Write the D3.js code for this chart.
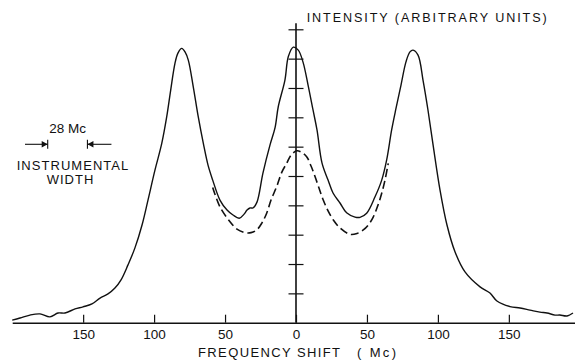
<!DOCTYPE html>
<html>

<head>
  <title>Frequency shift spectrum</title>
  <style>
    body { margin: 0; background: #fff; }
    text { font-family: "Liberation Sans", Arial, sans-serif; fill: #111; }
  </style>
</head>

<body>
  <svg id="main" width="575" height="362"></svg>

  <script src="https://cdn.jsdelivr.net/npm/d3@7.0.1/dist/d3.min.js"></script>
  <script>
    // measured trace (frequency shift in Mc, intensity in arbitrary units)
    const solidShift = [-200, -194.5, -187.5, -180.4, -173.4, -167.7, -162.8, -155.7, -150.1, -143.8,
      -138.1, -132.5, -127.6, -123.3, -118.4, -113.5, -108.5, -104.3, -99.4, -94.6,
      -91.1, -88.3, -85.3, -83.2, -80.5, -78.2, -75.9, -72.4, -68.9, -65.3,
      -62.0, -58.7, -53.6, -48.6, -44.4, -40.0, -36.6, -34.5, -32.4, -30.3,
      -27.5, -23.3, -18.3, -14.8, -12.5, -7.8, -5.4, -1.9, 1.6, 4.9,
      8.5, 12.0, 14.8, 18.3, 22.6, 26.1, 31.0, 35.9, 41.6, 45.1,
      49.8, 55.7, 60.4, 63.9, 67.4, 70.5, 74.0, 77.5, 80.3, 82.5,
      86.0, 89.5, 93.0, 96.6, 101.5, 106.4, 112.1, 119.1, 129.7, 136.7,
      141.6, 150.8, 157.9, 164.9, 171.9, 176.9, 182.5, 186.0, 191.0, 195.2]
    const solidIntensity = [0.09, 0.16, 0.26, 0.30, 0.20, 0.33, 0.33, 0.47, 0.54, 0.64,
      0.84, 0.98, 1.18, 1.46, 1.97, 2.55, 3.33, 4.18, 5.20, 6.11,
      7.02, 7.93, 8.84, 9.19, 9.35, 9.23, 8.95, 8.04, 7.02, 6.11,
      5.37, 4.86, 4.18, 3.84, 3.67, 3.56, 3.70, 3.84, 3.91, 3.91,
      4.11, 5.10, 6.06, 6.64, 7.36, 8.27, 9.07, 9.39, 9.29, 8.89,
      8.10, 7.25, 6.57, 5.45, 4.86, 4.42, 4.08, 3.74, 3.60, 3.59,
      3.73, 4.29, 4.86, 5.55, 6.57, 7.31, 8.10, 8.89, 9.23, 9.29,
      9.12, 8.27, 7.25, 6.06, 4.52, 3.33, 2.41, 1.73, 1.22, 1.01,
      0.74, 0.55, 0.50, 0.43, 0.36, 0.33, 0.26, 0.26, 0.23, 0.33]

    // dashed curve
    const dashShift = [-58.7, -53.6, -46.5, -41.6, -35.9, -31.7, -27.7, -24.0, -20.6, -17.6,
      -13.6, -9.9, -6.6, -3.5, 0.5, 3.5, 7.5, 10.6, 13.4, 16.2,
      19.2, 22.6, 26.3, 31.0, 38.1, 43.0, 47.4, 51.4, 54.5, 57.8,
      60.4, 62.7, 65.0]
    const dashIntensity = [4.61, 3.95, 3.44, 3.19, 3.07, 3.07, 3.16, 3.40, 3.74, 4.18,
      4.64, 5.14, 5.43, 5.71, 5.86, 5.82, 5.66, 5.34, 4.98, 4.59,
      4.18, 3.81, 3.50, 3.23, 3.01, 3.04, 3.16, 3.36, 3.61, 4.01,
      4.41, 4.86, 5.43]

    const xTicks = [-150, -100, -50, 0, 50, 100, 150]
    const yTicks = [1, 2, 3, 4, 5, 6, 7, 8, 9, 10]
    const widthMc = 28

    const svg = d3.select('#main')

    const xScale = d3.scaleLinear().domain([-200, 200]).range([12.2, 579.8])
    const yScale = d3.scaleLinear().domain([0, 10]).range([322.7, 29.3])

    const line = d3.line()
      .x(d => xScale(d[0]))
      .y(d => yScale(d[1]))
      .curve(d3.curveCatmullRom)

    // x axis
    const xAxis = d3.axisBottom(xScale)
      .tickValues(xTicks)
      .tickSizeInner(-8)
      .tickSizeOuter(0)
      .tickPadding(7)
      .tickFormat(d => Math.abs(d))

    const gx = svg.append('g')
      .attr('transform', `translate(0, ${yScale(0)})`)
      .call(xAxis)
    gx.select('.domain').attr('stroke', '#111').attr('stroke-width', 1.6)
    gx.selectAll('.tick line').attr('stroke', '#111').attr('stroke-width', 1.2)
    gx.selectAll('.tick text')
      .attr('font-size', 13.5)
      .attr('font-family', '"Liberation Sans", Arial, sans-serif')
      .attr('fill', '#111')

    // y axis with crossing ticks
    const yAxis = d3.axisLeft(yScale)
      .tickValues(yTicks)
      .tickSize(7.5)
      .tickFormat('')

    const gy = svg.append('g')
      .attr('transform', `translate(${xScale(0)}, 0)`)
      .call(yAxis)
    gy.select('.domain').remove()
    gy.selectAll('.tick line').attr('x1', -7.5).attr('x2', 7.5)
      .attr('stroke', '#111').attr('stroke-width', 1.2)
    gy.append('line')
      .attr('y1', yScale(10) - 6).attr('y2', yScale(0))
      .attr('stroke', '#111').attr('stroke-width', 1.6)

    // curves
    const solid = solidShift.map((d, i) => [d, solidIntensity[i]])
    const dashed = dashShift.map((d, i) => [d, dashIntensity[i]])

    svg.append('path').datum(solid)
      .attr('d', line)
      .attr('fill', 'none')
      .attr('stroke', '#111')
      .attr('stroke-width', 1.4)

    svg.append('path').datum(dashed)
      .attr('d', line)
      .attr('fill', 'none')
      .attr('stroke', '#111')
      .attr('stroke-width', 1.6)
      .attr('stroke-dasharray', '8,4')

    // labels
    svg.append('text').text('INTENSITY (ARBITRARY UNITS)')
      .attr('x', 306.7).attr('y', 21.7)
      .attr('font-size', 12.6)
      .attr('textLength', 240).attr('lengthAdjust', 'spacing')

    svg.append('text').text('FREQUENCY SHIFT')
      .attr('x', 198).attr('y', 357)
      .attr('font-size', 13)
      .attr('textLength', 142).attr('lengthAdjust', 'spacing')
    svg.append('text').text('( Mc)')
      .attr('x', 357).attr('y', 357)
      .attr('font-size', 13)
      .attr('textLength', 39).attr('lengthAdjust', 'spacing')

    // instrumental width marker
    const markL = 47.7
    const markR = markL + (xScale(widthMc) - xScale(0))
    const markY = 144.3
    const mk = svg.append('g').attr('stroke', '#111').attr('stroke-width', 1.1)
    mk.append('line').attr('x1', 25).attr('x2', markL).attr('y1', markY).attr('y2', markY)
    mk.append('line').attr('x1', markL).attr('x2', markL).attr('y1', markY - 4.5).attr('y2', markY + 4.5)
    mk.append('line').attr('x1', markR).attr('x2', markR + 24).attr('y1', markY).attr('y2', markY)
    mk.append('line').attr('x1', markR).attr('x2', markR).attr('y1', markY - 4.5).attr('y2', markY + 4.5)
    svg.append('path')
      .attr('d', `M${markL},${markY}l-6,-3.2v6.4z M${markR},${markY}l6,-3.2v6.4z`)
      .attr('fill', '#111')

    svg.append('text').text('28 Mc')
      .attr('x', (markL + markR) / 2).attr('y', 133.3)
      .attr('text-anchor', 'middle')
      .attr('font-size', 13.5)
    svg.append('text').text('INSTRUMENTAL')
      .attr('x', 16.7).attr('y', 169.5)
      .attr('font-size', 13)
      .attr('textLength', 111.6).attr('lengthAdjust', 'spacing')
    svg.append('text').text('WIDTH')
      .attr('x', 46.7).attr('y', 184)
      .attr('font-size', 13)
      .attr('textLength', 46.6).attr('lengthAdjust', 'spacing')
  </script>
</body>

</html>
